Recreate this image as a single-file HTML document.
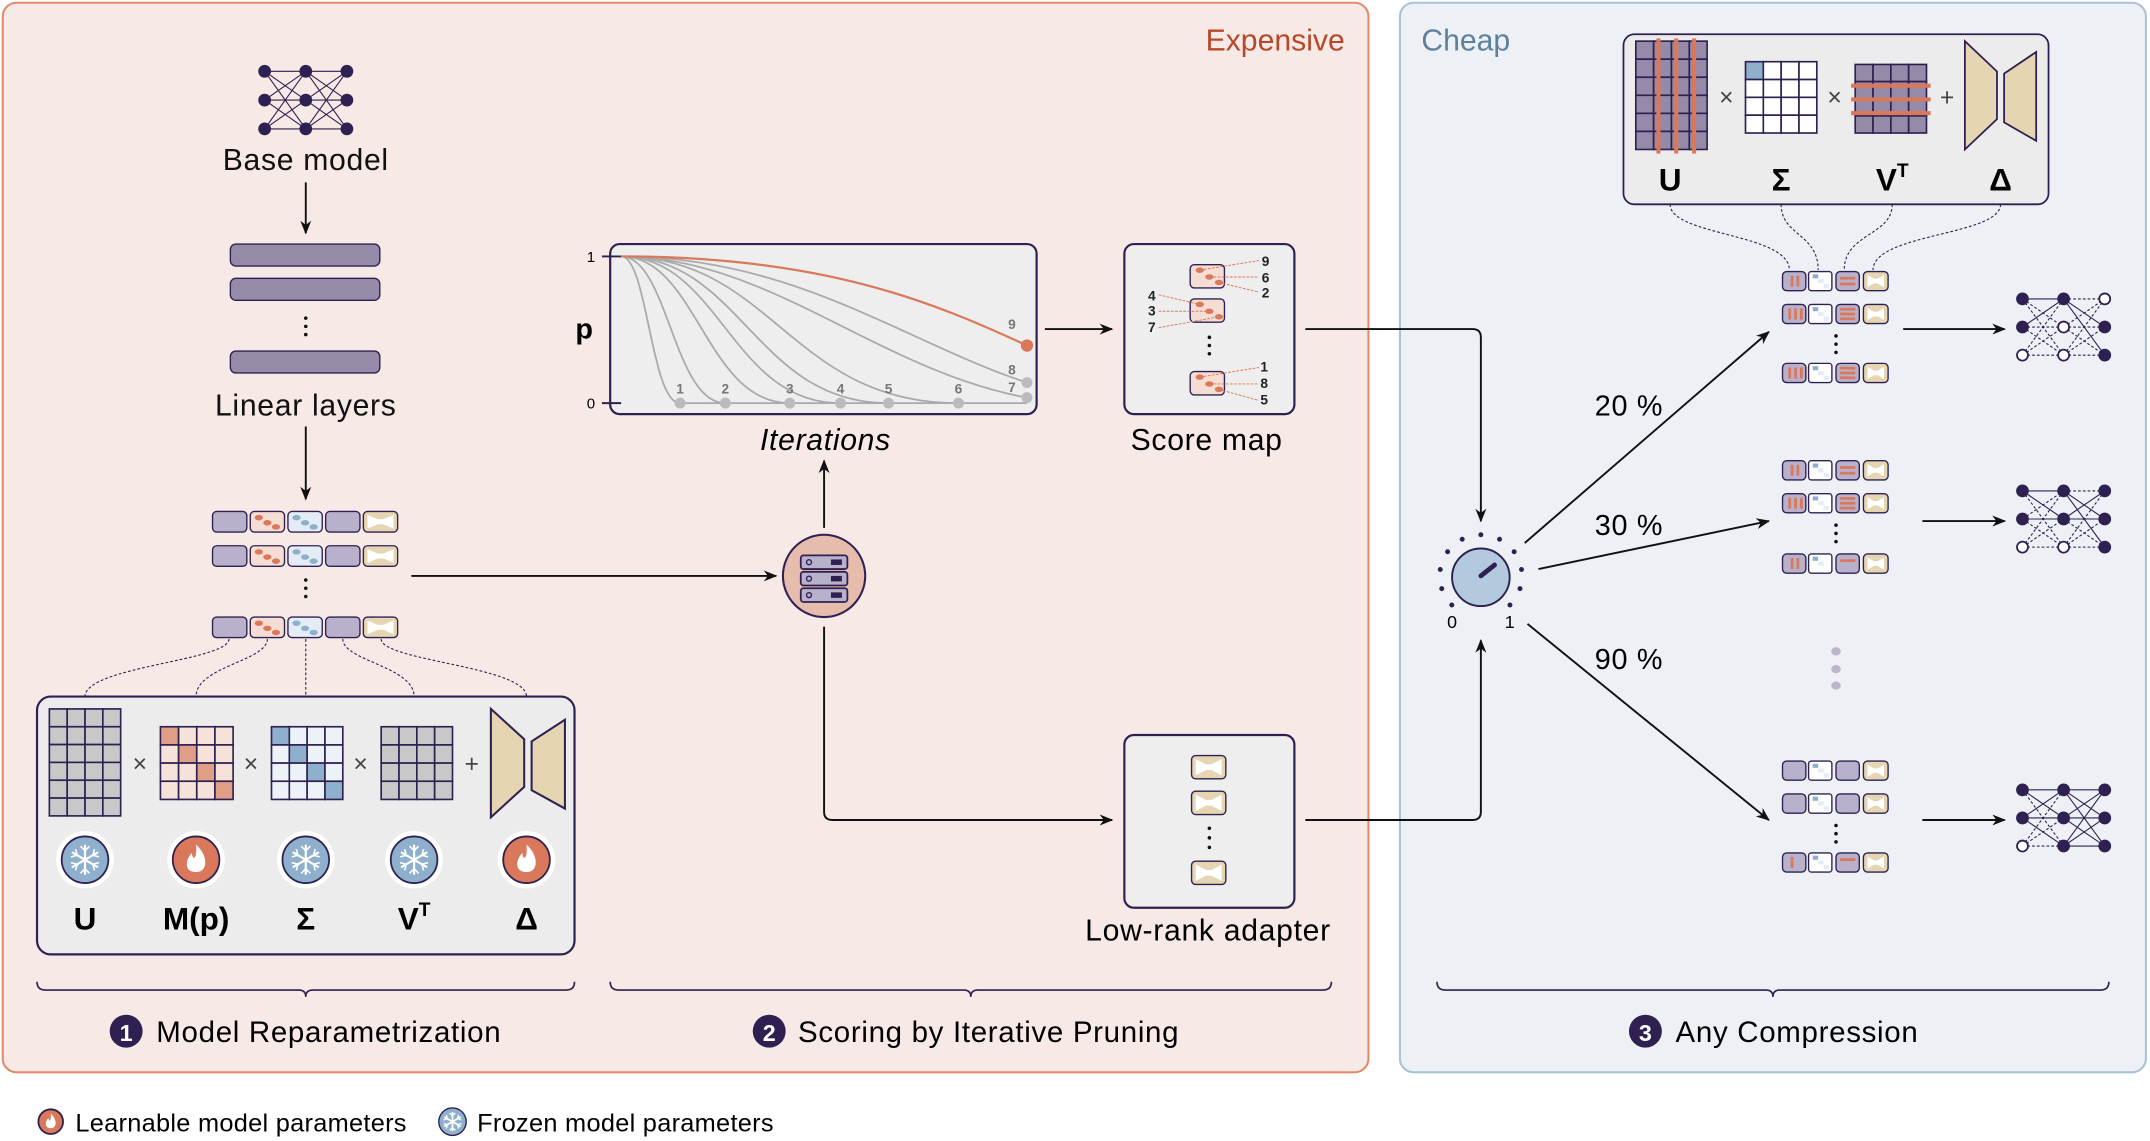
<!DOCTYPE html>
<html><head><meta charset="utf-8"><style>
html,body{margin:0;padding:0;background:#fff;}
svg{display:block;}
text{font-family:"Liberation Sans","DejaVu Sans",sans-serif;}
.t{letter-spacing:0.5px;}
</style></head><body>
<svg id="s" width="2150" height="1141" viewBox="0 0 1568 832.1" preserveAspectRatio="none" xmlns="http://www.w3.org/2000/svg">
<defs>
<marker id="ar" markerWidth="10" markerHeight="8" refX="9" refY="4" orient="auto" markerUnits="userSpaceOnUse"><path d="M0,0 L10,4 L0,8 L3,4z" fill="#111"/></marker>
</defs>
<rect x="2" y="2" width="996" height="780" rx="10" fill="#f7e9e5" stroke="#e28a6c" stroke-width="1.5"/>
<rect x="1021" y="2" width="544" height="780" rx="10" fill="#edf1f5" stroke="#a8c2d6" stroke-width="1.5"/>
<text x="930" y="37" font-size="22" fill="#b8482c" text-anchor="middle">Expensive</text>
<text x="1069" y="37" font-size="22" fill="#5d819c" text-anchor="middle">Cheap</text>

<g id="g"></g>

<g class="t">
<text x="223" y="124" font-size="22" text-anchor="middle" fill="#111">Base model</text>
<text x="223" y="303" font-size="22" text-anchor="middle" fill="#111">Linear layers</text>
<text x="602" y="328" font-size="22" font-style="italic" text-anchor="middle">Iterations</text>
<text x="880" y="328" font-size="22" text-anchor="middle">Score map</text>
<text x="881" y="686" font-size="22" text-anchor="middle">Low-rank adapter</text>
<text x="1188" y="303" font-size="21" text-anchor="middle">20 %</text>
<text x="1188" y="390" font-size="21" text-anchor="middle">30 %</text>
<text x="1188" y="488" font-size="21" text-anchor="middle">90 %</text>
<text x="114" y="760" font-size="21.5">Model Reparametrization</text>
<text x="582" y="760" font-size="21.5">Scoring by Iterative Pruning</text>
<text x="1222" y="760" font-size="21.5">Any Compression</text>
</g>
<text x="55" y="825" font-size="18.5" letter-spacing="0.2">Learnable model parameters</text>
<text x="348" y="825" font-size="18.5" letter-spacing="0.2">Frozen model parameters</text>
<text x="62" y="678" font-size="23" font-weight="bold" text-anchor="middle">U</text>
<text x="143" y="678" font-size="23" font-weight="bold" text-anchor="middle">M(p)</text>
<text x="223" y="678" font-size="23" font-weight="bold" text-anchor="middle">Σ</text>
<text x="302" y="678" font-size="23" font-weight="bold" text-anchor="middle">V<tspan font-size="14" dy="-10">T</tspan></text>
<text x="384" y="678" font-size="23" font-weight="bold" text-anchor="middle">Δ</text>
<text x="1218" y="139" font-size="23" font-weight="bold" text-anchor="middle">U</text>
<text x="1299" y="139" font-size="23" font-weight="bold" text-anchor="middle">Σ</text>
<text x="1380" y="139" font-size="23" font-weight="bold" text-anchor="middle">V<tspan font-size="14" dy="-10">T</tspan></text>
<text x="1459" y="139" font-size="23" font-weight="bold" text-anchor="middle">Δ</text>
<text x="426" y="247" font-size="21" font-weight="bold" text-anchor="middle">p</text>
<text x="431" y="191" font-size="11" font-family="Liberation Serif" text-anchor="middle">1</text>
<text x="431" y="298" font-size="11" font-family="Liberation Serif" text-anchor="middle">0</text>
<text x="1059" y="458" font-size="13" text-anchor="middle">0</text>
<text x="1101" y="458" font-size="13" text-anchor="middle">1</text>
<circle cx="92" cy="752" r="12" fill="#2e2152"/><text x="92" y="759" font-size="17" font-weight="bold" fill="#fff" text-anchor="middle">1</text>
<circle cx="561" cy="752" r="12" fill="#2e2152"/><text x="561" y="759" font-size="17" font-weight="bold" fill="#fff" text-anchor="middle">2</text>
<circle cx="1200" cy="752" r="12" fill="#2e2152"/><text x="1200" y="759" font-size="17" font-weight="bold" fill="#fff" text-anchor="middle">3</text>
<g font-size="10" font-weight="bold" fill="#777" text-anchor="middle">
<text x="496" y="287">1</text><text x="529" y="287">2</text><text x="576" y="287">3</text><text x="613" y="287">4</text><text x="648" y="287">5</text><text x="699" y="287">6</text><text x="738" y="286">7</text><text x="738" y="273">8</text><text x="738" y="240">9</text>
</g>
<g font-size="10" font-weight="bold" fill="#222" text-anchor="middle">
<text x="923" y="194">9</text><text x="923" y="206">6</text><text x="923" y="217">2</text>
<text x="840" y="219">4</text><text x="840" y="230">3</text><text x="840" y="242">7</text>
<text x="922" y="271">1</text><text x="922" y="283">8</text><text x="922" y="295">5</text>
</g>
</svg>
<script>
const NS="http://www.w3.org/2000/svg",G=document.getElementById('g');
function E(t,a){const e=document.createElementNS(NS,t);for(const k in a)e.setAttribute(k,a[k]);G.appendChild(e);return e;}
const D="#2e2152";
function line(x1,y1,x2,y2,o){return E('line',Object.assign({x1,y1,x2,y2,stroke:'#111','stroke-width':1.4},o||{}));}
function path(d,o){return E('path',Object.assign({d,fill:'none',stroke:'#111','stroke-width':1.4},o||{}));}
function vdots(x,y,gap,r,c){for(let i=0;i<3;i++)E('circle',{cx:x,cy:y+i*gap,r:r||1.3,fill:c||'#111'});}
function net(x0,y0,dx,dy,empty,solid){
 const pts=[];for(let c=0;c<3;c++)for(let r=0;r<3;r++)pts.push([x0+c*dx,y0+r*dy,c*3+r]);
 for(let c=0;c<2;c++)for(let a=0;a<3;a++)for(let b=0;b<3;b++){const p=pts[c*3+a],q=pts[(c+1)*3+b];const s=solid?solid.has(p[2]+'-'+q[2]):true;line(p[0],p[1],q[0],q[1],{stroke:D,'stroke-width':0.8,'stroke-dasharray':s?'':'2,1.5'});}
 pts.forEach(p=>{const e=empty&&empty.has(p[2]);E('circle',{cx:p[0],cy:p[1],r:4,fill:e?'#fff':D,stroke:D,'stroke-width':1.3});});
}
function grid(x,y,w,h,cols,rows,fill,special){const cw=w/cols,ch=h/rows;for(let i=0;i<cols;i++)for(let j=0;j<rows;j++){E('rect',{x:x+i*cw,y:y+j*ch,width:cw,height:ch,fill:(special&&special(i,j))||fill,stroke:D,'stroke-width':1.2});}}
function hour(x,y,w,h,sw){E('path',{d:`M${x},${y} L${x+w*0.45},${y+h*0.28} L${x+w*0.45},${y+h*0.72} L${x},${y+h} Z M${x+w},${y+h*0.1} L${x+w*0.55},${y+h*0.3} L${x+w*0.55},${y+h*0.75} L${x+w},${y+h*0.92} Z`,fill:'#e6d5b2',stroke:D,'stroke-width':sw||1.3});}
function snowflake(cx,cy,R,sw){for(let a=0;a<3;a++){const t=a*Math.PI/3+Math.PI/2;const c=Math.cos(t),s=Math.sin(t);line(cx-R*c,cy-R*s,cx+R*c,cy+R*s,{stroke:'#fff','stroke-width':sw});
 [1,-1].forEach(g=>{const ex=cx+g*R*0.6*c,ey=cy+g*R*0.6*s;const b=R*0.3;const px=-s,py=c;line(ex,ey,ex+g*b*c+b*px,ey+g*b*s+b*py,{stroke:'#fff','stroke-width':sw*0.7});line(ex,ey,ex+g*b*c-b*px,ey+g*b*s-b*py,{stroke:'#fff','stroke-width':sw*0.7});});}}
function snow(cx,cy){E('circle',{cx,cy,r:21,fill:'#fff'});E('circle',{cx,cy,r:17,fill:'#8fb0cc',stroke:D,'stroke-width':1.3});snowflake(cx,cy,11,1.6);}
function flame(cx,cy,r){r=r||17;E('circle',{cx,cy,r:r+4,fill:'#fff'});E('circle',{cx,cy,r,fill:'#d9785a',stroke:D,'stroke-width':1.3});const k=r/17;
 E('path',{d:`M${cx},${cy-11*k} C${cx+9*k},${cy-3*k} ${cx+9*k},${cy+9*k} ${cx},${cy+9*k} C${cx-9*k},${cy+9*k} ${cx-8*k},${cy} ${cx-3*k},${cy-5*k} C${cx-3*k},${cy} ${cx+1*k},${cy+1*k} ${cx},${cy-11*k}Z`,fill:'#fff'});}
function blk(x,y,w,h,type){
 const fills={p:'#b9b0cc',o:'#f6ddd4',b:'#e4edf5',h:'#e6d5b2',w:'#fff'};
 E('rect',{x,y,width:w,height:h,rx:3,fill:fills[type[0]]||'#fff',stroke:D,'stroke-width':1});
 if(type=='o'){[[0.25,0.3],[0.5,0.55],[0.75,0.75]].forEach(([a,b])=>E('ellipse',{cx:x+a*w,cy:y+b*h,rx:3,ry:2,fill:'#d9785a'}));}
 if(type=='b'){[[0.25,0.3],[0.5,0.55],[0.75,0.75]].forEach(([a,b])=>E('ellipse',{cx:x+a*w,cy:y+b*h,rx:3,ry:2,fill:'#8fb0cc'}));}
 if(type=='h'){E('path',{d:`M${x+3},${y+2.5} L${x+w*0.42},${y+h*0.38} L${x+w*0.58},${y+h*0.38} L${x+w-3},${y+2.5} L${x+w-3},${y+h-2.5} L${x+w*0.58},${y+h*0.62} L${x+w*0.42},${y+h*0.62} L${x+3},${y+h-2.5}Z`,fill:'#fff'});}
}
function vl(x,y,w,h,n){for(let i=0;i<n;i++){const xx=x+w*(0.35+i*0.25)-(n==3?w*0.1:0);E('rect',{x:xx,y:y+3,width:2,height:h-6,fill:'#d9785a'});}}
function hl(x,y,w,h,n){for(let i=0;i<n;i++){const yy=y+h*(n==3?0.25+i*0.25:0.35+i*0.3)-1;E('rect',{x:x+3,y:yy,width:w-6,height:2,fill:'#d9785a'});}}
function sig(x,y,w,h,k){E('rect',{x,y,width:w,height:h,rx:2,fill:'#fff',stroke:D,'stroke-width':1});for(let i=0;i<k;i++)E('rect',{x:x+3+i*4,y:y+2+i*3.5,width:4,height:3,fill:i<1?'#8fb0cc':'#e4edf5'});}

net(193,52,30,21);
line(223,133,223,170,{'marker-end':'url(#ar)'});
[178,203,256].forEach(y=>E('rect',{x:168,y,width:109,height:16,rx:4,fill:'#958aa8',stroke:D,'stroke-width':1}));
vdots(223,232,6);
line(223,311,223,364,{'marker-end':'url(#ar)'});
[373,398,450].forEach(y=>{['p','o','b','p','h'].forEach((t,i)=>blk(155+i*27.5,y,25,15,t));});
vdots(223,423,6);
[[167,62],[195,143],[223,223],[250,302],[278,384]].forEach(([a,b])=>{path(`M${a},466 C${a},482 ${b},486 ${b},508`,{stroke:D,'stroke-width':0.8,'stroke-dasharray':'2,1.5'});});
E('rect',{x:27,y:508,width:392,height:188,rx:10,fill:'#ececec',stroke:D,'stroke-width':1.6});
grid(36,517,52,78,4,6,'#c8c8c8');
grid(117,530,53,53,4,4,'#f7e2da',(i,j)=>i==j?'#e09e86':null);
grid(198,530,52,53,4,4,'#edf2f8',(i,j)=>i==j?'#8fb0cc':null);
grid(278,530,52,53,4,4,'#c8c8c8');
hour(358,517,54,79,1.5);
[[102,557,'×'],[183,557,'×'],[263,557,'×'],[344,557,'+']].forEach(([x,y,t])=>{const e=E('text',{x,y:y+6,'font-size':18,'text-anchor':'middle',fill:'#444'});e.textContent=t;});
snow(62,627);flame(143,627);snow(223,627);snow(302,627);flame(384,627);
function brace(x1,x2,y){const m=(x1+x2)/2;path(`M${x1},${y} Q${x1},${y+6} ${x1+6},${y+6} L${m-5},${y+6} Q${m},${y+6} ${m},${y+11} Q${m},${y+6} ${m+5},${y+6} L${x2-6},${y+6} Q${x2},${y+6} ${x2},${y}`,{stroke:D,'stroke-width':1.2});}
brace(27,419,716);brace(445,971,716);brace(1048,1538,716);
line(300,420,566,420,{'marker-end':'url(#ar)'});
E('circle',{cx:601,cy:420,r:30,fill:'#e6bcad',stroke:D,'stroke-width':1.5});
[405,417,429].forEach(y=>{E('rect',{x:584,y,width:34,height:10,rx:2,fill:'#b9b0cc',stroke:D,'stroke-width':1.3});E('circle',{cx:590,cy:y+5,r:1.8,fill:'none',stroke:D});E('rect',{x:606,y:y+3,width:8,height:4,fill:D});});
line(601,385,601,336,{'marker-end':'url(#ar)'});
path('M601,457 L601,592 Q601,598 607,598 L811,598',{'marker-end':'url(#ar)'});
E('rect',{x:445,y:178,width:311,height:124,rx:7,fill:'#eeeeee',stroke:D,'stroke-width':1.6});
line(439,187,453,187,{stroke:D});line(439,294,453,294,{stroke:D});
line(496,294,749,294,{stroke:'#aaa','stroke-width':1.3});
[496,529,576,613,648,699].forEach(x=>{const d=x-453;path(`M453,187 C${453+d*0.45},187 ${453+d*0.5},294 ${x},294`,{stroke:'#aaa','stroke-width':1.3});E('circle',{cx:x,cy:294,r:4,fill:'#bbb'});});
path('M453,187 C560,187 640,270 749,290',{stroke:'#aaa','stroke-width':1.3});E('circle',{cx:749,cy:290,r:4,fill:'#bbb'});
path('M453,187 C580,187 660,250 749,279',{stroke:'#aaa','stroke-width':1.3});E('circle',{cx:749,cy:279,r:4,fill:'#bbb'});
path('M453,187 C600,187 680,220 749,252',{stroke:'#d9785a','stroke-width':1.6});E('circle',{cx:749,cy:252,r:4.5,fill:'#d9785a'});
line(762,240,811,240,{'marker-end':'url(#ar)'});
E('rect',{x:820,y:178,width:124,height:124,rx:7,fill:'#eeeeee',stroke:D,'stroke-width':1.6});
function smb(y){E('rect',{x:868,y,width:25,height:17,rx:3,fill:'#f6ddd4',stroke:D,'stroke-width':1});[[875,y+4],[882,y+9],[889,y+13]].forEach(([a,b])=>E('ellipse',{cx:a,cy:b,rx:3,ry:2,fill:'#d9785a'}));}
smb(193);smb(218);smb(271);
const dl={stroke:'#d9785a','stroke-width':0.7,'stroke-dasharray':'2,1'};
line(875,197,918,190,dl);line(882,202,918,202,dl);line(889,206,918,213,dl);
line(845,215,875,222,dl);line(845,227,882,227,dl);line(845,239,889,231,dl);
line(875,275,918,268,dl);line(882,280,918,280,dl);line(889,284,918,292,dl);
vdots(882,246,6);
E('rect',{x:820,y:536,width:124,height:126,rx:7,fill:'#eeeeee',stroke:D,'stroke-width':1.6});
[551,577,628].forEach(y=>blk(869,y,25,17,'h'));
vdots(882,604,7);
path('M952,240 L1074,240 Q1080,240 1080,246 L1080,380',{'marker-end':'url(#ar)'});
path('M952,598 L1074,598 Q1080,598 1080,592 L1080,467',{'marker-end':'url(#ar)'});
for(let i=0;i<11;i++){const t=Math.PI*(0.75+i*0.15);E('circle',{cx:1080+30*Math.cos(t),cy:420+30*Math.sin(t),r:1.8,fill:D});}
E('circle',{cx:1080,cy:421,r:21,fill:'#b3c9dd',stroke:D,'stroke-width':1.4});
line(1080,420,1090,412,{stroke:D,'stroke-width':3.5,'stroke-linecap':'round'});
line(1112,396,1290,242,{'marker-end':'url(#ar)'});
line(1122,415,1290,380,{'marker-end':'url(#ar)'});
line(1114,455,1290,598,{'marker-end':'url(#ar)'});
E('rect',{x:1184,y:25,width:310,height:124,rx:8,fill:'#ececec',stroke:D,'stroke-width':1.3});
grid(1193,30,52,79,4,6,'#958aa8');[1208,1221,1234].forEach(x=>E('rect',{x,y:28,width:3,height:84,fill:'#d9785a'}));
grid(1273,45,52,52,4,4,'#fff',(i,j)=>i==0&&j==0?'#8fb0cc':null);
grid(1353,47,52,50,4,4,'#958aa8');[62,72,82].forEach(y=>E('rect',{x:1350,y:y-1,width:58,height:3,fill:'#d9785a'}));
hour(1433,30,52,79,1.3);
[[1259,'×'],[1338,'×'],[1420,'+']].forEach(([x,t])=>{const e=E('text',{x,y:77,'font-size':18,'text-anchor':'middle',fill:'#444'});e.textContent=t;});
[[1218,1305],[1299,1326],[1380,1345],[1459,1366]].forEach(([a,b])=>path(`M${a},149 C${a},172 ${b},170 ${b},197`,{stroke:D,'stroke-width':0.8,'stroke-dasharray':'2,1.5'}));
function row(y,nv,nh,sk){const w=17,h=14;blk(1300,y,w,h,'p');if(nv)vl(1300,y,w,h,nv);sig(1319,y,w,h,sk);blk(1339,y,w,h,'p');if(nh)hl(1339,y,w,h,nh);blk(1359,y,w+1,h,'h');}
row(198,2,2,3);row(222,3,3,3);vdots(1339,245,6);row(265,3,3,3);
row(336,2,2,3);row(360,3,3,3);vdots(1339,383,6);row(404,2,1,2);
row(555,0,0,3);row(579,0,0,3);vdots(1339,602,6);row(622,1,1,3);
[475,488,500].forEach(y=>E('ellipse',{cx:1339,cy:y,rx:3.5,ry:3,fill:'#bdb5cc'}));
line(1388,240,1462,240,{'marker-end':'url(#ar)'});
line(1402,380,1462,380,{'marker-end':'url(#ar)'});
line(1402,598,1462,598,{'marker-end':'url(#ar)'});
net(1475,218,30,20.5,new Set([2,4,5,6]),new Set(['0-3','1-3','3-7','3-8']));
net(1475,358,30,20.5,new Set([2,5]),new Set(['0-3','1-4','0-4','3-7','4-6','4-7','3-8']));
net(1475,576,30,20.5,new Set([2]),new Set(['0-3','0-4','1-3','1-4','1-5','3-6','3-7','4-6','4-8','5-7','5-8','4-7','3-8','5-6']));
flame(37,818,9);
E('circle',{cx:330,cy:818,r:10,fill:'#8fb0cc',stroke:D,'stroke-width':1});
snowflake(330,818,7,1.3);
</script>
</body></html>
